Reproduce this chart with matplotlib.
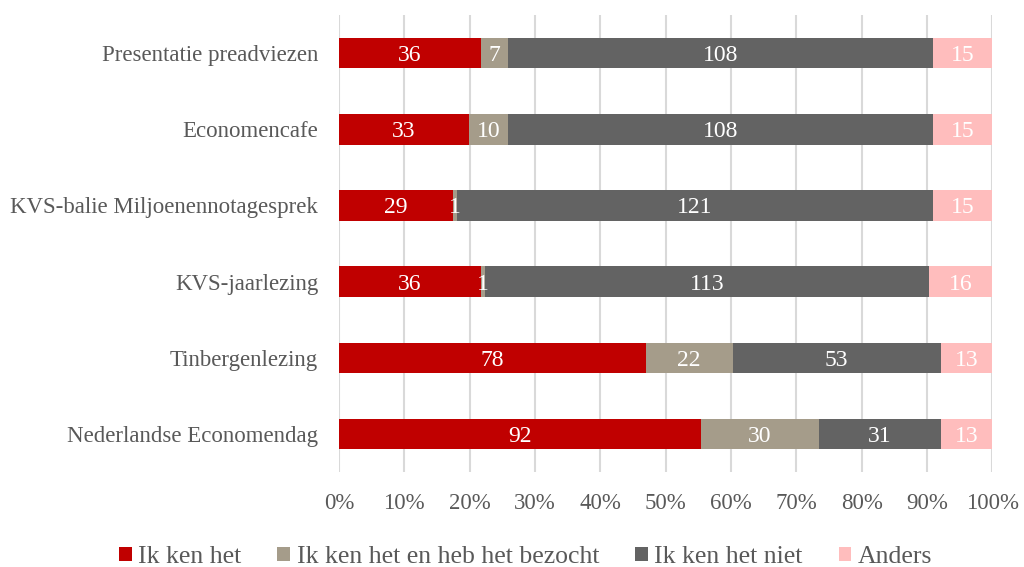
import matplotlib
matplotlib.use("Agg")
import matplotlib.pyplot as plt
import numpy as np

categories = ["Presentatie preadviezen", "Economencafe", "KVS-balie Miljoenennotagesprek",
              "KVS-jaarlezing", "Tinbergenlezing", "Nederlandse Economendag"]
ken_het = [36, 33, 29, 36, 78, 92]
bezocht = [7, 10, 1, 1, 22, 30]
niet = [108, 108, 121, 113, 53, 31]
anders = [15, 15, 15, 16, 13, 13]

series = [ken_het, bezocht, niet, anders]
names = ["Ik ken het", "Ik ken het en heb het bezocht", "Ik ken het niet", "Anders"]
colors = ["#C00000", "#A59C8A", "#636363", "#FFBDBD"]

plt.rcParams['font.family'] = ['Liberation Serif', 'DejaVu Serif']
grey = "#595959"

fig = plt.figure(figsize=(10.24, 5.67), dpi=100)
ax = fig.add_axes([0.331, 0.1675, 0.638, 0.806])

data = np.array(series, dtype=float)
totals = data.sum(axis=0)
pct = data / totals * 100
y = np.arange(len(categories))

left = np.zeros(len(categories))
for vals, p, name, col in zip(series, pct, names, colors):
    ax.barh(y, p, left=left, height=0.4, color=col, label=name, zorder=3)
    for yi, v, l, w in zip(y, vals, left, p):
        ax.text(l + w / 2, yi, str(v), ha="center", va="center_baseline",
                color="white", fontsize=17, zorder=4)
    left += p

ax.set_xlim(0, 100)
ax.set_ylim(len(categories) - 0.5, -0.5)
ax.set_yticks(y)
ax.set_yticklabels(categories, fontsize=16.5, color=grey)
ax.set_xticks(np.arange(0, 101, 10))
ax.set_xticklabels([f"{t}%" for t in range(0, 101, 10)], fontsize=16.5, color=grey)
ax.tick_params(axis="y", length=0, pad=15)
ax.tick_params(axis="x", length=0, pad=15)
ax.xaxis.grid(True, color="#D9D9D9", linewidth=1.5, zorder=0)
for s in ax.spines.values():
    s.set_visible(False)

ax.legend(loc="lower center", bbox_to_anchor=(0.5 - 0.331 / 0.638 * 0.5 + 0.045, -0.25),
          ncol=4, frameon=False, fontsize=18.5, handlelength=0.5, handleheight=0.5,
          handletextpad=0.25, columnspacing=1.4, labelcolor=grey, borderpad=0.2)

fig.savefig("out.png", dpi=100)
